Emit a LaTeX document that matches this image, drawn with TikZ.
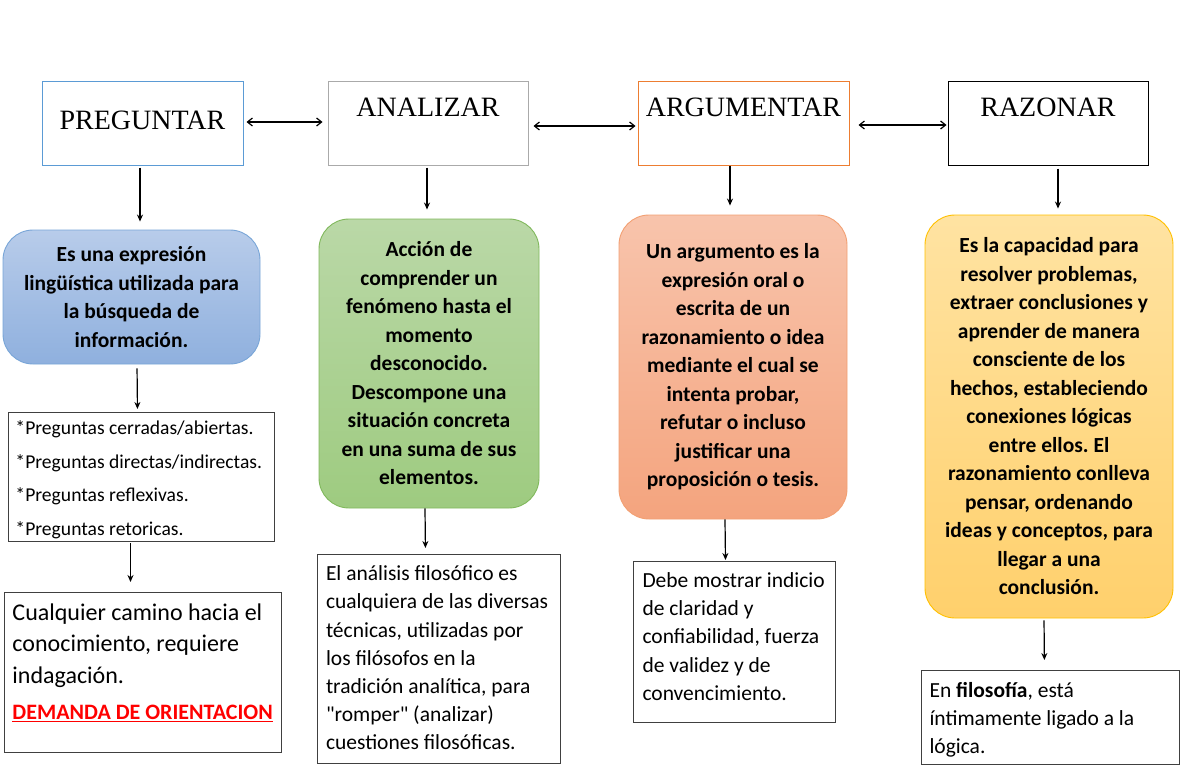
\documentclass[tikz,border=0pt]{standalone}
\usepackage{fontspec}
\setmainfont{Carlito}
\newfontfamily\headfont{Liberation Serif}
\frenchspacing
\usetikzlibrary{arrows.meta,calc}
\definecolor{pregline}{RGB}{91,155,213}
\definecolor{analline}{RGB}{170,170,170}
\definecolor{argline}{RGB}{237,125,49}
\definecolor{bluetop}{RGB}{184,204,234}
\definecolor{bluebot}{RGB}{143,176,222}
\definecolor{blueline}{RGB}{120,165,215}
\definecolor{greentop}{RGB}{186,216,167}
\definecolor{greenbot}{RGB}{158,203,128}
\definecolor{greenline}{RGB}{128,184,92}
\definecolor{orangetop}{RGB}{248,196,172}
\definecolor{orangebot}{RGB}{244,164,126}
\definecolor{orangeline}{RGB}{242,160,115}
\definecolor{yellowtop}{RGB}{255,227,162}
\definecolor{yellowbot}{RGB}{255,208,108}
\definecolor{yellowline}{RGB}{255,192,0}
\definecolor{boxline}{RGB}{64,64,64}
\tikzset{
  titlebox/.style={draw=#1, line width=1pt, minimum height=83pt, inner ysep=0pt,
    text height=35pt, text depth=48pt, font=\headfont\fontsize{28}{30}\selectfont},
  fillbox/.style={draw=#1line, top color=#1top, bottom color=#1bot, line width=0.9pt,
    rounded corners=30pt, align=flush center, inner sep=0pt,
    font=\bfseries\fontsize{21.5}{28.5}\selectfont},
  textbox/.style={draw=boxline, line width=1pt, align=flush left, anchor=north west,
    inner xsep=8pt, inner ysep=0pt, font=\fontsize{21.5}{28.2}\selectfont},
  arrow/.style={-{Stealth[length=7pt,width=6pt]}, line width=1.2pt},
  dblarrow/.style={{Straight Barb[length=5pt,width=8pt]}-{Straight Barb[length=5pt,width=8pt]}, line width=1.2pt}
}
\begin{document}
\begin{tikzpicture}[x=1pt,y=-1pt]
  \useasboundingbox (0,0) rectangle (1200,776);

  \node[titlebox=pregline, minimum width=201pt, text height=47pt, text depth=36pt] (pregunta) at (142.5,123.5) {PREGUNTAR};
  \node[titlebox=analline, minimum width=200pt] (analizar) at (428,123.5) {ANALIZAR};
  \node[titlebox=argline, minimum width=211pt] (argumentar) at (743.5,123.5) {ARGUMENTAR};
  \node[titlebox=black, minimum width=200pt] (razonar) at (1048,123.5) {RAZONAR};

  \node[fillbox=blue, minimum width=257pt, minimum height=134pt] (defpreg) at (131.5,297) {Es una expresión\\lingüística utilizada para\\la búsqueda de\\información.};
  \node[fillbox=green, minimum width=220pt, minimum height=289pt] (defanal) at (429,363.5) {Acción de\\comprender un\\fenómeno hasta el\\momento\\desconocido.\\Descompone una\\situación concreta\\en una suma de sus\\elementos.};
  \node[fillbox=orange, minimum width=228pt, minimum height=304pt] (defarg) at (733,367) {Un argumento es la\\expresión oral o\\escrita de un\\razonamiento o idea\\mediante el cual se\\intenta probar,\\refutar o incluso\\justificar una\\proposición o tesis.};
  \node[fillbox=yellow, minimum width=248pt, minimum height=403pt] (defraz) at (1049,416.5) {Es la capacidad para\\resolver problemas,\\extraer conclusiones y\\aprender de manera\\consciente de los\\hechos, estableciendo\\conexiones lógicas\\entre ellos. El\\razonamiento conlleva\\pensar, ordenando\\ideas y conceptos, para\\llegar a una\\conclusión.};

  \node[textbox, text width=252pt, inner xsep=7pt, text height=22.3pt, text depth=106.7pt,
    font=\fontsize{19.6}{33.5}\selectfont] (tipos) at (8,412) {*Preguntas cerradas/abiertas.\\{}*Preguntas directas/indirectas.\\{}*Preguntas reflexivas.\\{}*Preguntas retoricas.};
  \node[textbox, text width=261pt, text height=27.7pt, text depth=132.3pt,
    font=\fontsize{24}{31.5}\selectfont] (camino) at (4,592) {Cualquier camino hacia el\\conocimiento, requiere\\indagación.\\[5pt]{\fontsize{22}{24}\selectfont\bfseries\color{red}\underline{DEMANDA DE ORIENTACION}}};
  \node[textbox, text width=226pt, inner xsep=8.5pt, text height=26.2pt, text depth=182.8pt] (filosofico) at (317,554) {El análisis filosófico es\\cualquiera de las diversas\\técnicas, utilizadas por\\los filósofos en la\\tradición analítica, para\\\textquotedbl romper\textquotedbl{} (analizar)\\cuestiones filosóficas.};
  \node[textbox, text width=184pt, inner xsep=9pt, text height=25.9pt, text depth=135.1pt] (criterio) at (633,561) {Debe mostrar indicio\\de claridad y\\confiabilidad, fuerza\\de validez y de\\convencimiento.};
  \node[textbox, text width=242pt, text height=26.9pt, text depth=67.1pt] (logica) at (921,670) {En \textbf{filosofía}, está\\íntimamente ligado a la\\lógica.};

  % links between the four actions
  \draw[dblarrow, shorten <=3pt, shorten >=5pt] ([yshift=1.5pt]pregunta.east) -- ([yshift=1.5pt]analizar.west);
  \draw[dblarrow, shorten <=5pt, shorten >=2pt] ([yshift=-2.5pt]analizar.east) -- ([yshift=-2.5pt]argumentar.west);
  \draw[dblarrow, shorten <=9pt, shorten >=1pt] ([yshift=-1.5pt]argumentar.east) -- ([yshift=-1.5pt]razonar.west);

  % down the columns
  \draw[arrow, shorten <=2pt, shorten >=8pt] ([xshift=-2.5pt]pregunta.south) -- ([xshift=8.5pt]defpreg.north);
  \draw[arrow, shorten <=4pt, shorten >=3pt] ([xshift=5.5pt]defpreg.south) -- ([xshift=-4pt]tipos.north);
  \draw[arrow, shorten <=1pt, shorten >=10pt] ([xshift=-11pt]tipos.south) -- ([xshift=-12.5pt]camino.north);

  \draw[arrow, shorten <=2pt, shorten >=9pt] ([xshift=-1pt]analizar.south) -- ([xshift=-2pt]defanal.north);
  \draw[arrow, shorten >=6pt] ([xshift=-4pt]defanal.south) -- ([xshift=-13.5pt]filosofico.north);

  \draw[arrow, shorten >=9pt] ([xshift=-13.5pt]argumentar.south) -- ([xshift=-3pt]defarg.north);
  \draw[arrow, shorten >=1pt] ([xshift=-8pt]defarg.south) -- ([xshift=-9pt]criterio.north);

  \draw[arrow, shorten <=3pt, shorten >=6pt] ([xshift=10pt]razonar.south) -- ([xshift=9pt]defraz.north);
  \draw[arrow, shorten <=2pt, shorten >=10pt] ([xshift=-5pt]defraz.south) -- ([xshift=-6pt]logica.north);
\end{tikzpicture}
\end{document}
